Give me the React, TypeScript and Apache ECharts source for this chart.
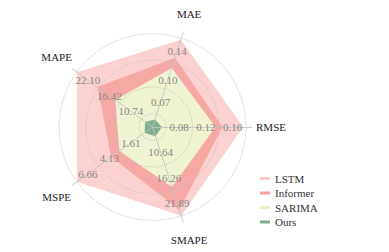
import React, { useEffect, useRef } from 'react';
import * as echarts from 'echarts';

const indicators = ['RMSE', 'MAE', 'MAPE', 'MSPE', 'SMAPE'];
// tick labels drawn on the three visible grid rings (inner -> outer)
const tickLevel1 = [0.08, 0.07, 10.74, 1.61, 10.64];
const tickLevel2 = [0.12, 0.10, 16.42, 4.13, 16.26];
const tickLevel3 = [0.16, 0.14, 22.10, 6.66, 21.89];

const seriesNames = ['LSTM', 'Informer', 'SARIMA', 'Ours'];
const lstm = [0.156, 0.138, 22.10, 6.66, 21.89];
const informer = [0.125, 0.113, 16.70, 2.65, 20.55];
const sarima = [0.1145, 0.099, 12.02, 1.70, 15.49];
const ours = [0.034, 0.028, 4.14, -1.25, 4.27];

const FONT = 'Liberation Serif';

export default function App() {
  const ref = useRef<HTMLDivElement>(null);
  useEffect(() => {
    document.body.style.margin = '0';
    if (!ref.current) return;
    const chart = echarts.init(ref.current, null, { renderer: 'svg' });

    // each axis: rings every step, step = (t3 - t1) / 2; scale split in quarter steps
    const steps = indicators.map((_, i) => (tickLevel3[i] - tickLevel1[i]) / 2);
    const mins = indicators.map((_, i) => +(tickLevel1[i] - 1.5 * steps[i]).toFixed(6));
    const maxs = indicators.map((_, i) => +(tickLevel1[i] + 2.25 * steps[i]).toFixed(6));

    const shifted = [tickLevel1, tickLevel2, tickLevel3].map((lv) =>
      lv.map((v, i) => v - steps[i] / 2)
    );
    const nameVals = indicators.map((_, i) => mins[i] + (maxs[i] - mins[i]) * 1.185);

    const colors = {
      LSTM: { line: '#f8cccc', area: '#fbd1d1' },
      Informer: { line: '#f3a3a0', area: '#f6a8a5' },
      SARIMA: { line: '#eef1c6', area: '#f1f4d3' },
      Ours: { line: '#80ae8d', area: '#80ae8e' },
    } as Record<string, { line: string; area: string }>;
    const values = [lstm, informer, sarima, ours];

    const tickSeries = shifted.map((arr, k) => {
      const levels = [tickLevel1, tickLevel2, tickLevel3][k];
      return {
        type: 'radar',
        silent: true,
        z: 5,
        symbol: 'circle',
        symbolSize: 0.01,
        itemStyle: { color: 'rgba(0,0,0,0)' },
        lineStyle: { width: 0, opacity: 0 },
        emphasis: { disabled: true },
        label: {
          show: true,
          position: 'inside',
          color: '#8a8686',
          fontSize: 11,
          fontFamily: FONT,
          formatter: (p: any) => {
            let i = p.dimensionIndex;
            if (i == null) i = arr.indexOf(p.value);
            return levels[i].toFixed(2);
          },
        },
        data: [{ name: 'tick' + k, value: arr }],
      };
    });

    const option: any = {
      animation: false,
      textStyle: { fontFamily: FONT },
      legend: {
        data: seriesNames,
        orient: 'vertical',
        left: 255,
        top: 168,
        itemWidth: 10,
        itemHeight: 3,
        itemGap: 3.5,
        icon: 'rect',
        textStyle: { fontFamily: FONT, fontSize: 11, color: '#333' },
      },
      radar: {
        z: 3,
        center: [152.5, 127],
        radius: 100,
        startAngle: 0,
        shape: 'circle',
        splitNumber: 15,
        indicator: indicators.map((name, i) => ({ name, min: mins[i], max: maxs[i] })),
        axisName: { show: false },
        axisLine: { lineStyle: { color: '#c4c4c4', type: 'dotted', width: 1 } },
        axisTick: { show: false },
        axisLabel: { show: false },
        splitLine: {
          lineStyle: {
            color: ['rgba(0,0,0,0)', 'rgba(0,0,0,0)', '#c4c4c4', 'rgba(0,0,0,0)'],
            type: 'dotted',
            width: 1,
          },
        },
        splitArea: { show: false },
      },
      series: [
        {
          type: 'radar',
          z: 2,
          symbol: 'none',
          lineStyle: { width: 0 },
          emphasis: { disabled: true },
          data: seriesNames.map((name, i) => ({
            name,
            value: values[i],
            itemStyle: { color: colors[name].line },
            lineStyle: { width: 0, color: colors[name].area },
            areaStyle: { color: colors[name].area, opacity: 1 },
          })),
        },
        ...tickSeries,
        {
          type: 'radar',
          silent: true,
          z: 5,
          symbol: 'circle',
          symbolSize: 0.01,
          itemStyle: { color: 'rgba(0,0,0,0)' },
          lineStyle: { width: 0, opacity: 0 },
          emphasis: { disabled: true },
          label: {
            show: true,
            position: 'inside',
            color: '#222',
            fontSize: 11,
            fontFamily: FONT,
            formatter: (p: any) => {
              let i = p.dimensionIndex;
              if (i == null) i = nameVals.indexOf(p.value);
              return indicators[i];
            },
          },
          data: [{ name: 'names', value: nameVals }],
        },
      ],
    };
    chart.setOption(option);
    return () => chart.dispose();
  }, []);
  return <div ref={ref} style={{ width: 389, height: 252 }} />;
}
